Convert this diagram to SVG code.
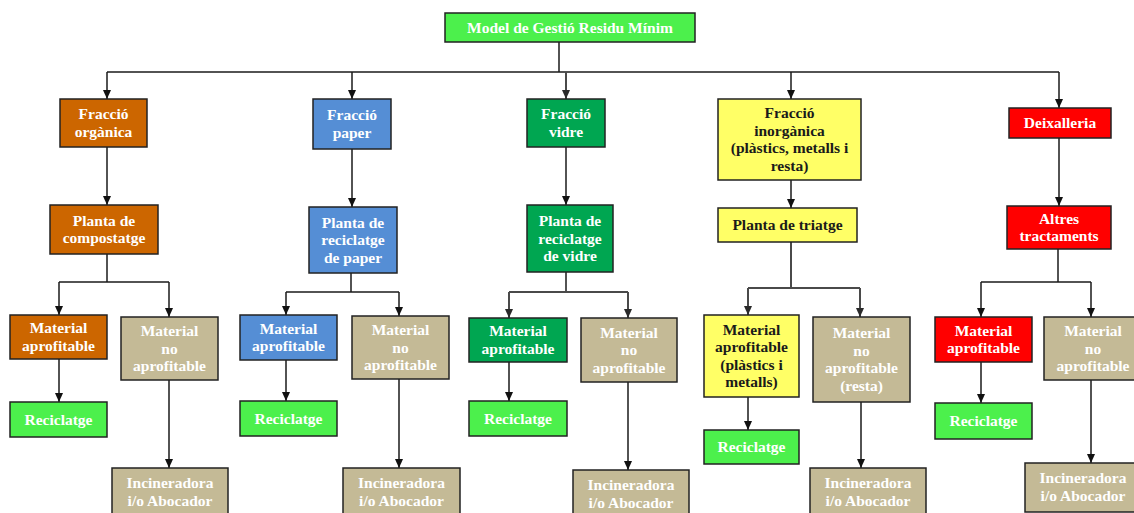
<svg xmlns="http://www.w3.org/2000/svg" width="1134" height="513" viewBox="0 0 1134 513">
<style>
  .nd rect { stroke: #222; stroke-width: 1.5; }
  .tg { fill: #4CF04C; }
  .or { fill: #CC6600; }
  .bl { fill: #558ED5; }
  .dg { fill: #00A651; }
  .ye { fill: #FFFF66; }
  .rd { fill: #FF0000; }
  .tn { fill: #C4BA96; }
  text { font-family: "Liberation Serif", "Times New Roman", serif; font-weight: bold; font-size: 15.5px; text-anchor: middle; fill: #FFFFFF; }
  text.dk { fill: #1A1A1A; }
  .cn path { fill: none; stroke: #1A1A1A; stroke-width: 1.5; }
  .cn path.gr { stroke: #4A4A4A; stroke-width: 2; }
  .cn path.ar { marker-end: url(#ah); }
  .cn path.gr.ar { marker-end: url(#ahg); }
</style>
<defs>
  <marker id="ah" markerUnits="userSpaceOnUse" markerWidth="9" markerHeight="8" refX="9" refY="4" orient="auto">
    <path d="M0,0 L9,4 L0,8 z" fill="#111"/>
  </marker>
  <marker id="ahg" markerUnits="userSpaceOnUse" markerWidth="9" markerHeight="8" refX="9" refY="4" orient="auto">
    <path d="M0,0 L9,4 L0,8 z" fill="#2A2A2A"/>
  </marker>
</defs>

<g class="cn" id="connectors">
  <path d="M559,42 V72"/>
  <path d="M107,72 H1059"/>
  <path class="ar" d="M107,72 V99"/>
  <path class="ar" d="M352,72 V99"/>
  <path class="ar gr" d="M566,72 V99"/>
  <path class="ar" d="M791,72 V99"/>
  <path class="ar" d="M1059,72 V108"/>

  <path class="ar" d="M107,147 V205"/>
  <path d="M107,254 V282"/>
  <path d="M59,282 H169"/>
  <path class="ar" d="M59,282 V315"/>
  <path class="ar" d="M169,282 V317"/>
  <path class="ar" d="M59,359 V402"/>
  <path class="ar" d="M169,380 V468"/>

  <path class="ar" d="M352,149 V207"/>
  <path d="M351,273 V292"/>
  <path d="M286,292 H399"/>
  <path class="ar" d="M286,292 V315"/>
  <path class="ar" d="M399,292 V316"/>
  <path class="ar" d="M286,360 V401"/>
  <path class="ar" d="M399,379 V468"/>

  <path class="ar" d="M566,147 V205"/>
  <path d="M566,272 V292"/>
  <path class="gr" d="M509,292 H628"/>
  <path class="ar gr" d="M509,292 V318"/>
  <path class="ar gr" d="M628,292 V318"/>
  <path class="ar" d="M509,362 V401"/>
  <path class="ar" d="M628,382 V470"/>

  <path class="ar" d="M791,180 V208"/>
  <path class="gr" d="M791,242 V288"/>
  <path class="gr" d="M748,288 H860"/>
  <path class="ar gr" d="M748,288 V315"/>
  <path class="ar gr" d="M860,288 V317"/>
  <path class="ar" d="M748,397 V430"/>
  <path class="ar" d="M861,402 V468"/>

  <path class="ar" d="M1059,138 V206"/>
  <path d="M1058,249 V282"/>
  <path d="M981,282 H1091"/>
  <path class="ar" d="M981,282 V317"/>
  <path class="ar" d="M1091,282 V317"/>
  <path class="ar" d="M981,362 V403"/>
  <path class="ar" d="M1091,380 V463"/>
</g>

<g class="nd" id="model">
  <rect class="tg" x="445" y="13" width="250" height="29"/>
  <text x="570" y="32.5">Model de Gestió Residu Mínim</text>
</g>

<g class="nd" id="fraccio-organica">
  <rect class="or" x="60" y="99" width="87" height="48"/>
  <text x="103.5"><tspan x="103.5" y="119.25">Fracció</tspan><tspan x="103.5" y="136.75">orgànica</tspan></text>
</g>
<g class="nd" id="planta-compostatge">
  <rect class="or" x="50" y="205" width="108" height="49"/>
  <text x="104"><tspan x="104" y="225.75">Planta de</tspan><tspan x="104" y="243.25">compostatge</tspan></text>
</g>
<g class="nd" id="material-aprofitable-1">
  <rect class="or" x="10" y="315" width="97" height="44"/>
  <text x="58.5"><tspan x="58.5" y="333.25">Material</tspan><tspan x="58.5" y="350.75">aprofitable</tspan></text>
</g>
<g class="nd" id="material-no-aprofitable-1">
  <rect class="tn" x="121" y="317" width="97" height="63"/>
  <text x="169.5"><tspan x="169.5" y="336">Material</tspan><tspan x="169.5" y="353.5">no</tspan><tspan x="169.5" y="371">aprofitable</tspan></text>
</g>
<g class="nd" id="reciclatge-1">
  <rect class="tg" x="10" y="402" width="97" height="35"/>
  <text x="58.5" y="424.5">Reciclatge</text>
</g>
<g class="nd" id="incineradora-1">
  <rect class="tn" x="112" y="468" width="116" height="48"/>
  <text x="170"><tspan x="170" y="488.25">Incineradora</tspan><tspan x="170" y="505.75">i/o Abocador</tspan></text>
</g>

<g class="nd" id="fraccio-paper">
  <rect class="bl" x="313" y="99" width="78" height="50"/>
  <text x="352"><tspan x="352" y="120.25">Fracció</tspan><tspan x="352" y="137.75">paper</tspan></text>
</g>
<g class="nd" id="planta-reciclatge-paper">
  <rect class="bl" x="309" y="207" width="88" height="66"/>
  <text x="353"><tspan x="353" y="227.5">Planta de</tspan><tspan x="353" y="245">reciclatge</tspan><tspan x="353" y="262.5">de paper</tspan></text>
</g>
<g class="nd" id="material-aprofitable-2">
  <rect class="bl" x="240" y="315" width="97" height="45"/>
  <text x="288.5"><tspan x="288.5" y="333.75">Material</tspan><tspan x="288.5" y="351.25">aprofitable</tspan></text>
</g>
<g class="nd" id="material-no-aprofitable-2">
  <rect class="tn" x="352" y="316" width="97" height="63"/>
  <text x="400.5"><tspan x="400.5" y="335">Material</tspan><tspan x="400.5" y="352.5">no</tspan><tspan x="400.5" y="370">aprofitable</tspan></text>
</g>
<g class="nd" id="reciclatge-2">
  <rect class="tg" x="240" y="401" width="97" height="35"/>
  <text x="288.5" y="423.5">Reciclatge</text>
</g>
<g class="nd" id="incineradora-2">
  <rect class="tn" x="343" y="468" width="117" height="48"/>
  <text x="401.5"><tspan x="401.5" y="488.25">Incineradora</tspan><tspan x="401.5" y="505.75">i/o Abocador</tspan></text>
</g>

<g class="nd" id="fraccio-vidre">
  <rect class="dg" x="527" y="99" width="78" height="48"/>
  <text x="566"><tspan x="566" y="119.25">Fracció</tspan><tspan x="566" y="136.75">vidre</tspan></text>
</g>
<g class="nd" id="planta-reciclatge-vidre">
  <rect class="dg" x="527" y="205" width="86" height="67"/>
  <text x="570"><tspan x="570" y="226">Planta de</tspan><tspan x="570" y="243.5">reciclatge</tspan><tspan x="570" y="261">de vidre</tspan></text>
</g>
<g class="nd" id="material-aprofitable-3">
  <rect class="dg" x="469" y="318" width="98" height="44"/>
  <text x="518"><tspan x="518" y="336.25">Material</tspan><tspan x="518" y="353.75">aprofitable</tspan></text>
</g>
<g class="nd" id="material-no-aprofitable-3">
  <rect class="tn" x="581" y="318" width="96" height="64"/>
  <text x="629"><tspan x="629" y="337.5">Material</tspan><tspan x="629" y="355">no</tspan><tspan x="629" y="372.5">aprofitable</tspan></text>
</g>
<g class="nd" id="reciclatge-3">
  <rect class="tg" x="469" y="401" width="98" height="35"/>
  <text x="518" y="423.5">Reciclatge</text>
</g>
<g class="nd" id="incineradora-3">
  <rect class="tn" x="573" y="470" width="116" height="48"/>
  <text x="631"><tspan x="631" y="490.25">Incineradora</tspan><tspan x="631" y="507.75">i/o Abocador</tspan></text>
</g>

<g class="nd" id="fraccio-inorganica">
  <rect class="ye" x="718" y="99" width="143" height="81"/>
  <text class="dk" x="789.5"><tspan x="789.5" y="118.25">Fracció</tspan><tspan x="789.5" y="135.75">inorgànica</tspan><tspan x="789.5" y="153.25">(plàstics, metalls i</tspan><tspan x="789.5" y="170.75">resta)</tspan></text>
</g>
<g class="nd" id="planta-triatge">
  <rect class="ye" x="718" y="208" width="139" height="34"/>
  <text class="dk" x="787.5" y="230">Planta de triatge</text>
</g>
<g class="nd" id="material-aprofitable-4">
  <rect class="ye" x="704" y="315" width="95" height="82"/>
  <text class="dk" x="751.5"><tspan x="751.5" y="334.75">Material</tspan><tspan x="751.5" y="352.25">aprofitable</tspan><tspan x="751.5" y="369.75">(plàstics i</tspan><tspan x="751.5" y="387.25">metalls)</tspan></text>
</g>
<g class="nd" id="material-no-aprofitable-4">
  <rect class="tn" x="813" y="317" width="97" height="85"/>
  <text x="861.5"><tspan x="861.5" y="338.25">Material</tspan><tspan x="861.5" y="355.75">no</tspan><tspan x="861.5" y="373.25">aprofitable</tspan><tspan x="861.5" y="390.75">(resta)</tspan></text>
</g>
<g class="nd" id="reciclatge-4">
  <rect class="tg" x="704" y="430" width="95" height="34"/>
  <text x="751.5" y="452">Reciclatge</text>
</g>
<g class="nd" id="incineradora-4">
  <rect class="tn" x="810" y="468" width="116" height="48"/>
  <text x="868"><tspan x="868" y="488.25">Incineradora</tspan><tspan x="868" y="505.75">i/o Abocador</tspan></text>
</g>

<g class="nd" id="deixalleria">
  <rect class="rd" x="1009" y="108" width="102" height="30"/>
  <text x="1060" y="128">Deixalleria</text>
</g>
<g class="nd" id="altres-tractaments">
  <rect class="rd" x="1007" y="206" width="104" height="43"/>
  <text x="1059"><tspan x="1059" y="223.75">Altres</tspan><tspan x="1059" y="241.25">tractaments</tspan></text>
</g>
<g class="nd" id="material-aprofitable-5">
  <rect class="rd" x="935" y="317" width="97" height="45"/>
  <text x="983.5"><tspan x="983.5" y="335.75">Material</tspan><tspan x="983.5" y="353.25">aprofitable</tspan></text>
</g>
<g class="nd" id="material-no-aprofitable-5">
  <rect class="tn" x="1044" y="317" width="98" height="63"/>
  <text x="1093"><tspan x="1093" y="336">Material</tspan><tspan x="1093" y="353.5">no</tspan><tspan x="1093" y="371">aprofitable</tspan></text>
</g>
<g class="nd" id="reciclatge-5">
  <rect class="tg" x="935" y="403" width="97" height="36"/>
  <text x="983.5" y="426">Reciclatge</text>
</g>
<g class="nd" id="incineradora-5">
  <rect class="tn" x="1025" y="463" width="116" height="49"/>
  <text x="1083"><tspan x="1083" y="483.25">Incineradora</tspan><tspan x="1083" y="500.75">i/o Abocador</tspan></text>
</g>
</svg>
